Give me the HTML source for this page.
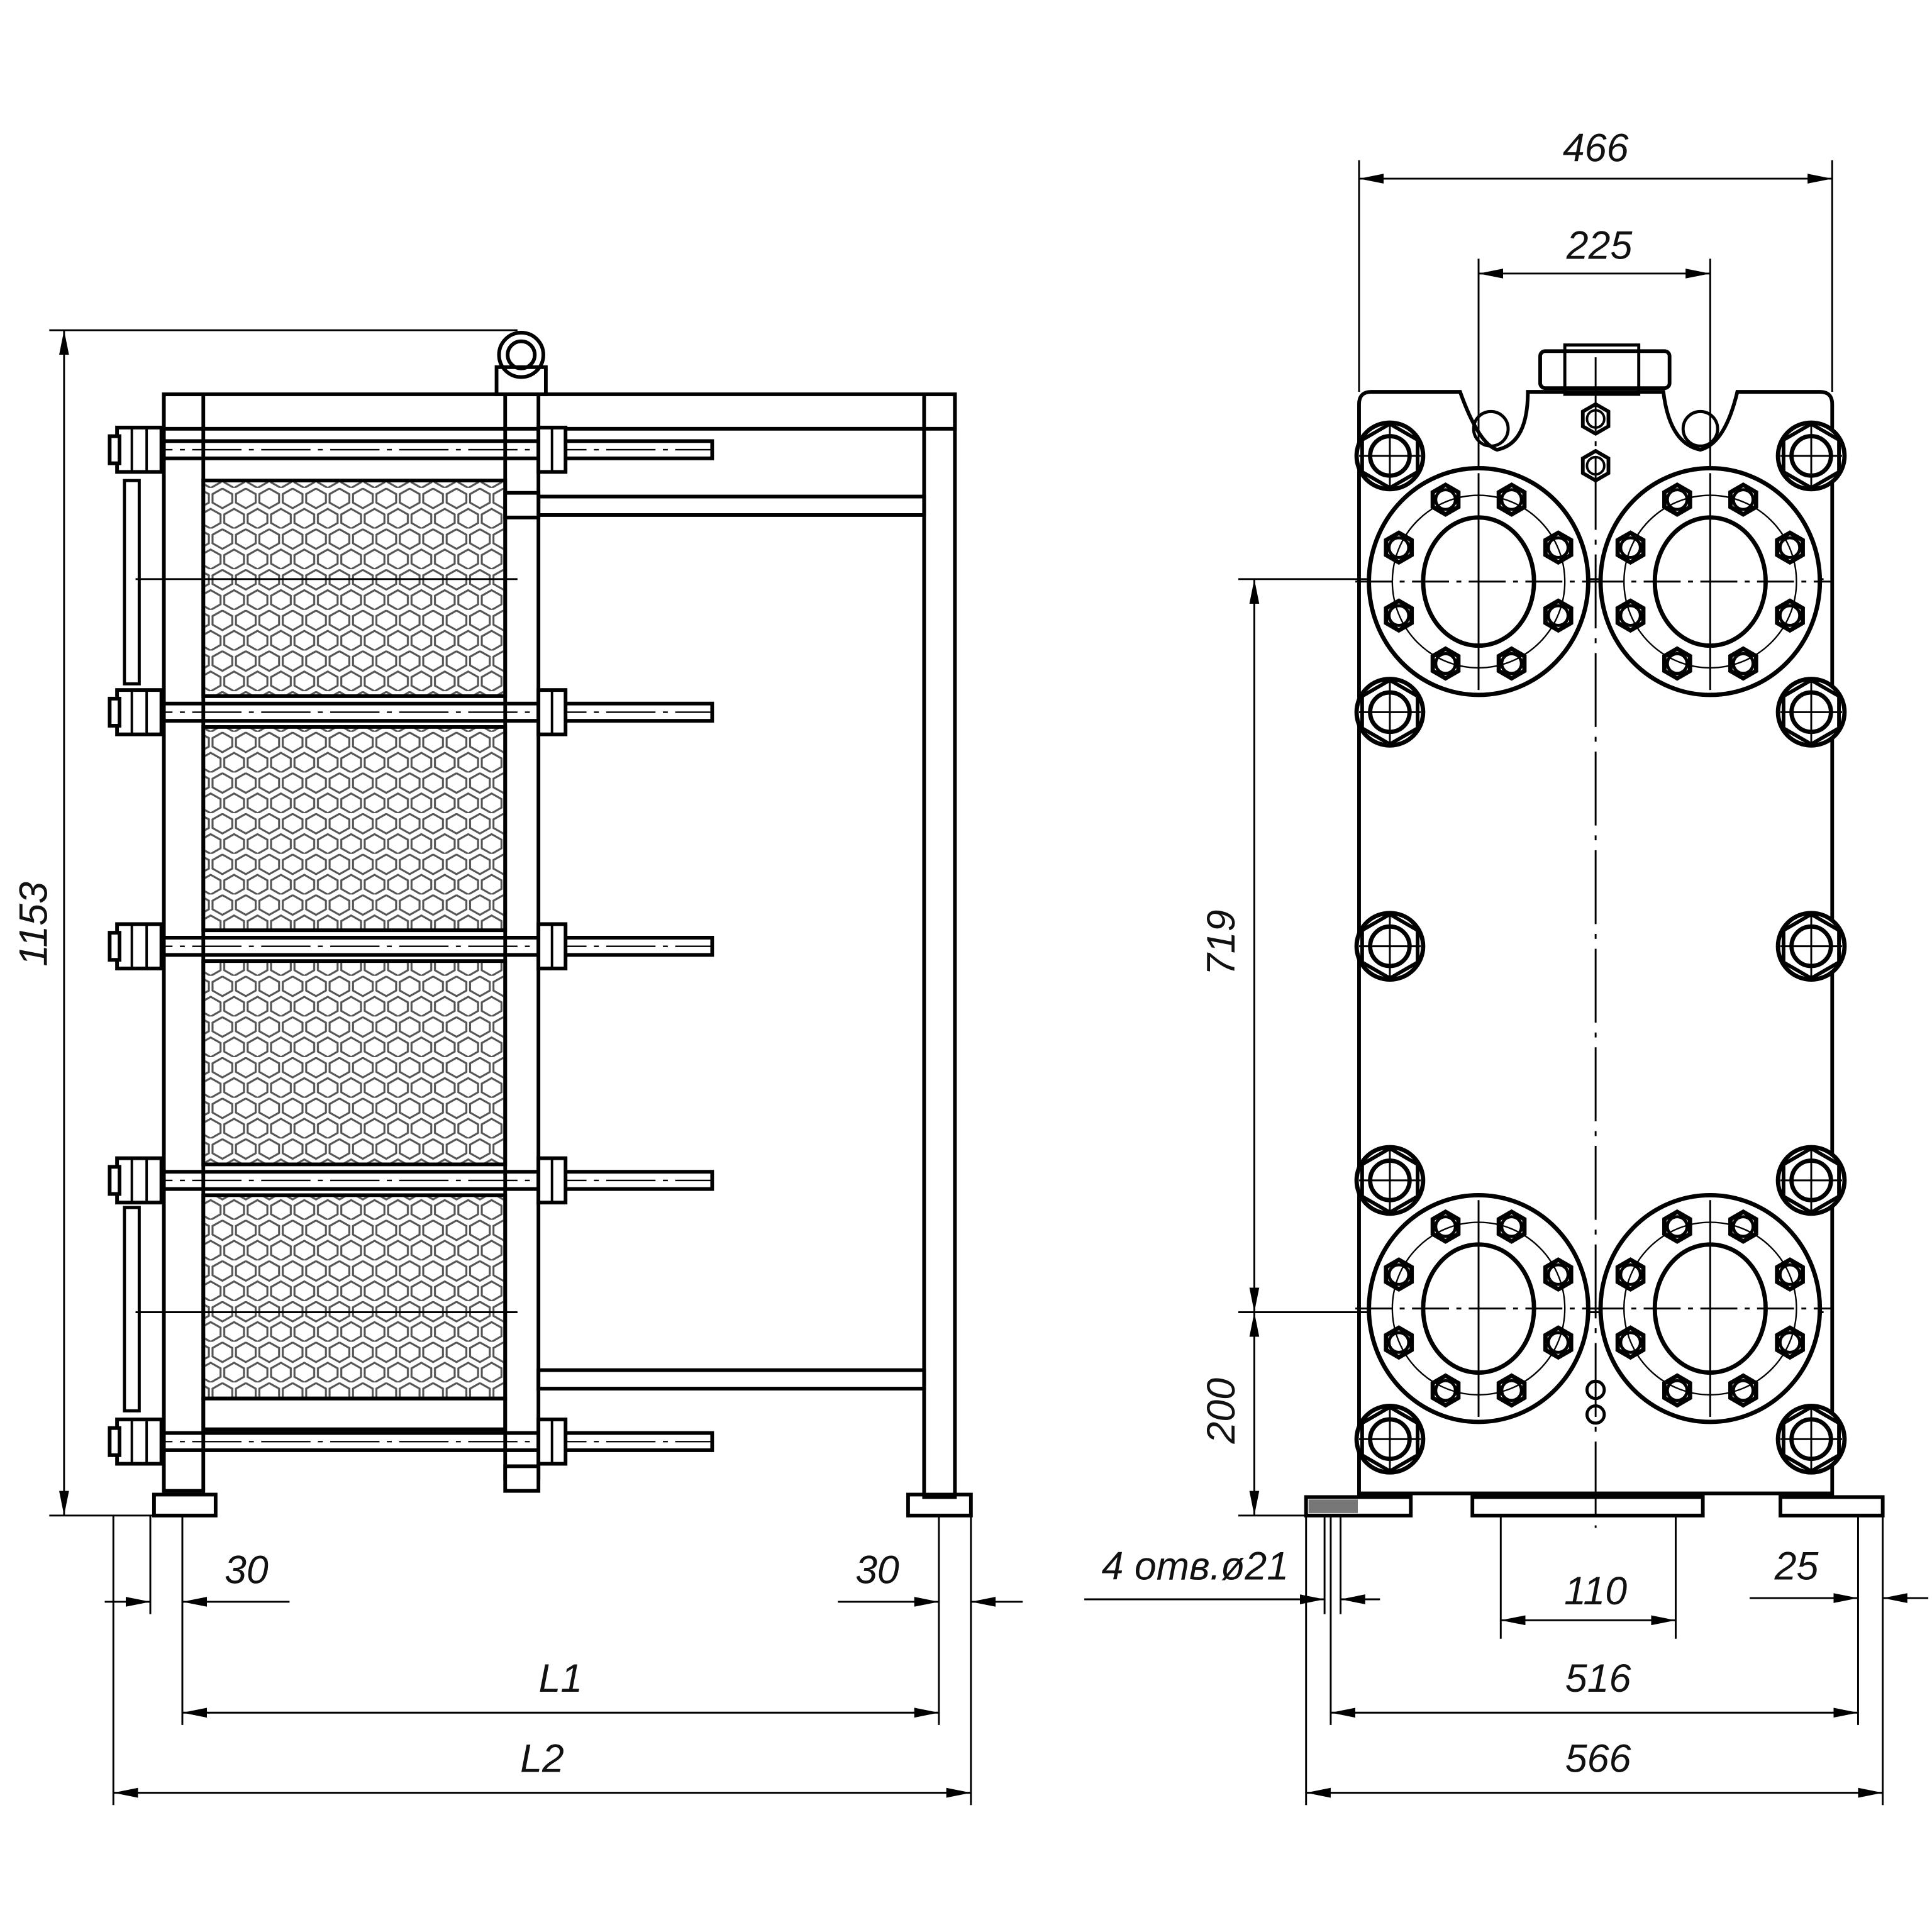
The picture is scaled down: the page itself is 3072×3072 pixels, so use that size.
<!DOCTYPE html>
<html><head><meta charset="utf-8"><style>
html,body{margin:0;padding:0;background:#fff}
svg{display:block}
text{font-family:"Liberation Sans",sans-serif;font-style:italic;font-size:32px;fill:#111}
</style></head><body>
<svg id="s" width="3072" height="3072" viewBox="0 0 1568 1568" xmlns="http://www.w3.org/2000/svg">
<defs>
<pattern id="hex" width="19" height="33" patternUnits="userSpaceOnUse">
<g fill="none" stroke="#555" stroke-width="1.6">
<polygon points="9.5,0.5 17.5,5 17.5,12 9.5,16.5 1.5,12 1.5,5"/>
<polygon points="0,17 8,21.5 8,28.5 0,33 -8,28.5 -8,21.5"/>
<polygon points="19,17 27,21.5 27,28.5 19,33 11,28.5 11,21.5"/>
</g></pattern>
<marker id="a" viewBox="0 0 20 10" refX="20" refY="5" markerWidth="20" markerHeight="10" markerUnits="userSpaceOnUse" orient="auto-start-reverse"><path d="M0,1 L20,5 L0,9 z" fill="#000"/></marker>
</defs>
<g id="g" fill="none" stroke="#000" stroke-width="3">
<!-- LEFT VIEW -->
<line x1="52" y1="268" x2="52" y2="1230" stroke-width="1.5" marker-start="url(#a)" marker-end="url(#a)"/>
<line x1="40" y1="268" x2="420" y2="268" stroke-width="1.5"/>
<line x1="40" y1="1230" x2="130" y2="1230" stroke-width="1.5"/>
<!-- frame -->
<rect x="133" y="320" width="642" height="28"/>
<rect x="133" y="320" width="32" height="890"/>
<rect x="750" y="320" width="25" height="895"/>
<rect x="410" y="320" width="27" height="880"/>
<rect x="437" y="403" width="313" height="15"/>
<rect x="437" y="1112" width="313" height="15"/>
<rect x="403" y="298" width="40" height="22"/>
<circle cx="423" cy="288" r="18"/><circle cx="423" cy="288" r="11"/>
<!-- plate packs -->
<rect x="165" y="390" width="245" height="175" fill="url(#hex)"/>
<rect x="165" y="590" width="245" height="165" fill="url(#hex)"/>
<rect x="165" y="780" width="245" height="165" fill="url(#hex)"/>
<rect x="165" y="970" width="245" height="165" fill="url(#hex)"/>
<rect x="165" y="1135" width="245" height="25"/>
<line x1="110" y1="470" x2="420" y2="470" stroke-width="1.5"/>
<line x1="110" y1="1065" x2="420" y2="1065" stroke-width="1.5"/>
<!-- left side bolts on plate -->
<rect x="101" y="390" width="12" height="165" stroke-width="2.5"/>
<rect x="101" y="980" width="12" height="165" stroke-width="2.5"/>
<!-- feet -->
<rect x="125" y="1213" width="50" height="17"/>
<rect x="737" y="1213" width="51" height="17"/>
<!-- dims bottom left -->
<g stroke-width="1.5">
<line x1="92" y1="1230" x2="92" y2="1465"/>
<line x1="122" y1="1230" x2="122" y2="1310"/>
<line x1="148" y1="1230" x2="148" y2="1400"/>
<line x1="762" y1="1230" x2="762" y2="1400"/>
<line x1="788" y1="1230" x2="788" y2="1465"/>
<line x1="85" y1="1300" x2="122" y2="1300" marker-end="url(#a)"/>
<line x1="235" y1="1300" x2="148" y2="1300" marker-end="url(#a)"/>
<line x1="680" y1="1300" x2="762" y2="1300" marker-end="url(#a)"/>
<line x1="830" y1="1300" x2="788" y2="1300" marker-end="url(#a)"/>
<line x1="148" y1="1390" x2="762" y2="1390" marker-start="url(#a)" marker-end="url(#a)"/>
<line x1="92" y1="1455" x2="788" y2="1455" marker-start="url(#a)" marker-end="url(#a)"/>
</g>
<!-- RIGHT VIEW -->
<path d="M1103,328 Q1103,318 1113,318 L1185,318 Q1200,360 1215,365 Q1240,360 1240,318 L1350,318 Q1355,360 1380,365 Q1400,360 1410,318 L1477,318 Q1487,318 1487,328 L1487,1212 L1103,1212 Z"/>
<rect x="1250" y="285" width="105" height="30" rx="4"/>
<rect x="1270" y="280" width="60" height="40" stroke-width="2.5"/>
<circle cx="1210" cy="348" r="14" stroke-width="2.5"/>
<circle cx="1380" cy="348" r="14" stroke-width="2.5"/>
<line x1="1295" y1="290" x2="1295" y2="1240" stroke-width="1.5" stroke-dasharray="60,8,4,8"/>
<g stroke-width="1.5">
<line x1="1103" y1="130" x2="1103" y2="318"/>
<line x1="1487" y1="130" x2="1487" y2="318"/>
<line x1="1103" y1="145" x2="1487" y2="145" marker-start="url(#a)" marker-end="url(#a)"/>
<line x1="1200" y1="210" x2="1200" y2="400"/>
<line x1="1388" y1="210" x2="1388" y2="400"/>
<line x1="1200" y1="222" x2="1388" y2="222" marker-start="url(#a)" marker-end="url(#a)"/>
<line x1="1005" y1="470" x2="1480" y2="470"/>
<line x1="1005" y1="1065" x2="1480" y2="1065"/>
<line x1="1005" y1="1230" x2="1060" y2="1230"/>
<line x1="1018" y1="470" x2="1018" y2="1065" marker-start="url(#a)" marker-end="url(#a)"/>
<line x1="1018" y1="1065" x2="1018" y2="1230" marker-start="url(#a)" marker-end="url(#a)"/>
<line x1="1060" y1="1230" x2="1060" y2="1465"/>
<line x1="1075" y1="1230" x2="1075" y2="1310"/>
<line x1="1088" y1="1230" x2="1088" y2="1310"/>
<line x1="1080" y1="1230" x2="1080" y2="1400"/>
<line x1="1218" y1="1230" x2="1218" y2="1330"/>
<line x1="1360" y1="1230" x2="1360" y2="1330"/>
<line x1="1508" y1="1230" x2="1508" y2="1400"/>
<line x1="1528" y1="1230" x2="1528" y2="1465"/>
<line x1="880" y1="1298" x2="1075" y2="1298" marker-end="url(#a)"/>
<line x1="1120" y1="1298" x2="1088" y2="1298" marker-end="url(#a)"/>
<line x1="1218" y1="1315" x2="1360" y2="1315" marker-start="url(#a)" marker-end="url(#a)"/>
<line x1="1420" y1="1297" x2="1508" y2="1297" marker-end="url(#a)"/>
<line x1="1565" y1="1297" x2="1528" y2="1297" marker-end="url(#a)"/>
<line x1="1080" y1="1390" x2="1508" y2="1390" marker-start="url(#a)" marker-end="url(#a)"/>
<line x1="1060" y1="1455" x2="1528" y2="1455" marker-start="url(#a)" marker-end="url(#a)"/>
</g>
<!-- base -->
<rect x="1060" y="1215" width="85" height="15"/>
<rect x="1062" y="1217" width="40" height="11" fill="#777" stroke="none"/>
<rect x="1195" y="1215" width="187" height="15"/>
<rect x="1445" y="1215" width="83" height="15"/>
<circle cx="1295" cy="1128" r="7" stroke-width="2.5"/>
<circle cx="1295" cy="1148" r="7" stroke-width="2.5"/>
</g>
<g font-size="32">
<text transform="translate(38,750) rotate(-90)" text-anchor="middle">1153</text>
<text x="200" y="1285" text-anchor="middle">30</text>
<text x="712" y="1285" text-anchor="middle">30</text>
<text x="455" y="1373" text-anchor="middle">L1</text>
<text x="440" y="1438" text-anchor="middle">L2</text>
<text x="1295" y="131" text-anchor="middle">466</text>
<text x="1298" y="210" text-anchor="middle">225</text>
<text transform="translate(1002,765) rotate(-90)" text-anchor="middle">719</text>
<text transform="translate(1002,1145) rotate(-90)" text-anchor="middle">200</text>
<text x="970" y="1282" text-anchor="middle">4 отв.ø21</text>
<text x="1295" y="1302" text-anchor="middle">110</text>
<text x="1458" y="1282" text-anchor="middle">25</text>
<text x="1297" y="1373" text-anchor="middle">516</text>
<text x="1297" y="1438" text-anchor="middle">566</text>
</g>
</svg>
<script>
var g=document.getElementById('g'),NS='http://www.w3.org/2000/svg';
function el(t,a){var e=document.createElementNS(NS,t);for(var k in a)e.setAttribute(k,a[k]);g.appendChild(e);return e;}
function hex(cx,cy,r,sw){var p=[];for(var i=0;i<6;i++){var an=Math.PI/6+i*Math.PI/3;p.push((cx+r*Math.cos(an)).toFixed(1)+','+(cy+r*Math.sin(an)).toFixed(1));}el('polygon',{points:p.join(' '),'stroke-width':sw});}
// tie rods
[365,578,768,958,1170].forEach(function(y){
 el('rect',{x:100,y:y-7,width:478,height:14});
 el('line',{x1:100,y1:y,x2:578,y2:y,'stroke-width':1.2,'stroke-dasharray':'40,6,4,6'});
 el('rect',{x:95,y:y-18,width:36,height:36,fill:'#fff'});
 el('line',{x1:107,y1:y-18,x2:107,y2:y+18,'stroke-width':2});
 el('line',{x1:119,y1:y-18,x2:119,y2:y+18,'stroke-width':2});
 el('rect',{x:89,y:y-11,width:8,height:22,fill:'#fff'});
 el('rect',{x:437,y:y-18,width:22,height:36,fill:'#fff'});
 el('line',{x1:448,y1:y-18,x2:448,y2:y+18,'stroke-width':2});
});
[410,1200].forEach(function(y){el('rect',{x:410,y:y-10,width:27,height:20,fill:'#fff'});});
// right view big nuts
[[1128,370],[1470,370],[1128,578],[1470,578],[1128,768],[1470,768],[1128,958],[1470,958],[1128,1168],[1470,1168]].forEach(function(c){
 el('circle',{cx:c[0],cy:c[1],r:27,fill:'#fff','stroke-width':3.5});
 hex(c[0],c[1],26,3);
 el('circle',{cx:c[0],cy:c[1],r:16,'stroke-width':3.5});
 el('line',{x1:c[0]-25,y1:c[1],x2:c[0]+25,y2:c[1],'stroke-width':1.5});
 el('line',{x1:c[0],y1:c[1]-25,x2:c[0],y2:c[1]+25,'stroke-width':1.5});
});
[[1295,340],[1295,378]].forEach(function(c){hex(c[0],c[1],12,3);el('circle',{cx:c[0],cy:c[1],r:7,'stroke-width':2});});
// flanges
[[1200,472],[1388,472],[1200,1062],[1388,1062]].forEach(function(c){
 el('ellipse',{cx:c[0],cy:c[1],rx:89,ry:92,fill:'#fff','stroke-width':3.5});
 el('ellipse',{cx:c[0],cy:c[1],rx:45,ry:52,'stroke-width':3.5});
 el('circle',{cx:c[0],cy:c[1],r:70,'stroke-width':1.2});
 el('line',{x1:c[0]-100,y1:c[1],x2:c[0]+100,y2:c[1],'stroke-width':1.5,'stroke-dasharray':'30,6,4,6'});
 el('line',{x1:c[0],y1:c[1]-88,x2:c[0],y2:c[1]+88,'stroke-width':1.5});
 for(var k=0;k<8;k++){var an=Math.PI/8+k*Math.PI/4;var x=c[0]+70*Math.cos(an),y=c[1]+72*Math.sin(an);
  hex(x,y,12,3.5);el('circle',{cx:x,cy:y,r:8,'stroke-width':2.5});}
});
</script>
</body></html>
